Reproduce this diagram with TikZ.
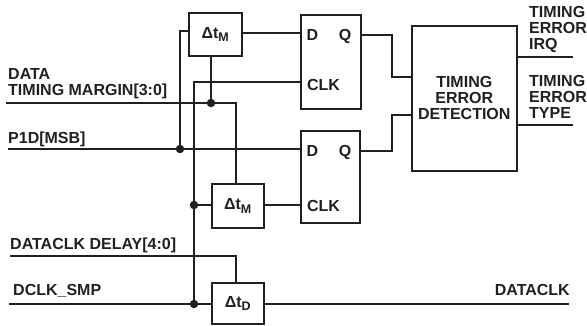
\documentclass[tikz,border=0pt]{standalone}
\usepackage{fontspec}
\setmainfont{Liberation Sans}
\definecolor{ink}{HTML}{231F20}
\newcommand{\dltt}[1]{Δt\raisebox{-3.5pt}{\fontsize{12.5}{12.5}\selectfont #1}}

\begin{document}
\begin{tikzpicture}[x=1pt, y=-1pt, every node/.style={font=\fontsize{16}{16}\selectfont\bfseries, text=ink, inner sep=0pt}, nd/.style={draw=ink, line width=1.5pt, inner sep=0pt, anchor=north west}, lbl/.style={align=left, anchor=west}, pin/.style={anchor=base}, tag/.style={anchor=base west}, wire/.style={draw=ink, line width=1.5pt}, dot/.style={circle, fill=ink, minimum size=8.5pt}]
	\useasboundingbox (0,0) rectangle (587,325);
	\node[nd, minimum width=53pt, minimum height=43pt] (dtma) at (188,12) {\dltt{M}};
	\node[nd, minimum width=52pt, minimum height=44pt] (dtmb) at (211,183) {\dltt{M}};
	\node[nd, minimum width=52pt, minimum height=41pt] (dtd) at (211,282) {\dltt{D}};
	\node[nd, minimum width=60pt, minimum height=94pt] (ffa) at (300,14) {};
	\node[nd, minimum width=59pt, minimum height=92pt] (ffb) at (300,130) {};
	\node[nd, minimum width=105pt, minimum height=145pt, align=center] (det) at (411,25) {TIMING\\ERROR\\DETECTION};
	\foreach \n/\y/\z in {ffa/40/90,ffb/156/211} {
		\node[pin] at (312.5,\y) (\n d) {D};
		\node[pin] at (345,\y) (\n q) {Q};
		\node[pin] at (323.5,\z) (\n c) {CLK};
	}
	\node[lbl] (ldata) at (8,84) {DATA\\TIMING MARGIN[3:0]};
	\node[tag] (lp) at (8,143) {P1D[MSB]};
	\node[tag] (ldly) at (10,249) {DATACLK DELAY[4:0]};
	\node[tag] (ldclk) at (13,295) {DCLK\_SMP};
	\node[anchor=base east] (lout) at (570,295) {DATACLK};
	\node[lbl] (lirq) at (529,29) {TIMING\\ERROR\\IRQ};
	\node[lbl] (ltype) at (529,97) {TIMING\\ERROR\\TYPE};
	\node[dot] (ja) at (180,149) {};
	\node[dot] (jb) at (211,103) {};
	\node[dot] (jc) at (194,205) {};
	\node[dot] (jd) at (194,304) {};
	\coordinate (sdata) at (6,103);
	\coordinate (sp) at (8,149);
	\coordinate (sdly) at (10,256);
	\coordinate (sdclk) at (9,304);
	\coordinate (eout) at (569,304);
	\coordinate (eirq) at (573,57);
	\coordinate (etype) at (573,125);
	\coordinate (ffap) at (300,33);
	\coordinate (ffaq) at (300,82);
	\coordinate (ffbp) at (300,149);
	\coordinate (ffbq) at (300,205);
	\coordinate (deta) at (411,77);
	\coordinate (detb) at (411,115);
	\path[wire] (sdata) -- (jb) -- (236,103) -- (236,183);
	\path[wire] (sp) -- (ja) -- (ffbp);
	\path[wire] (ja) -- (180,31) -- (188,31);
	\path[wire] (jb) -- (jb |- dtma.south);
	\path[wire] (dtma.east |- ffap) -- (ffap);
	\path[wire] (ffaq) -- (194,82) -- (jd);
	\path[wire] (jc) -- (dtmb.west |- jc);
	\path[wire] (dtmb.east |- ffbq) -- (ffbq);
	\path[wire] (sdly) -- (236,256) -- (236,282);
	\path[wire] (sdclk) -- (jd) -- (dtd.west |- jd);
	\path[wire] (dtd.east |- eout) -- (eout);
	\path[wire] (360,35) -- (392,35) -- (392,77) -- (deta);
	\path[wire] (359,151) -- (392,151) -- (392,115) -- (detb);
	\path[wire] (516,57) -- (eirq);
	\path[wire] (516,125) -- (etype);
\end{tikzpicture}
\end{document}
